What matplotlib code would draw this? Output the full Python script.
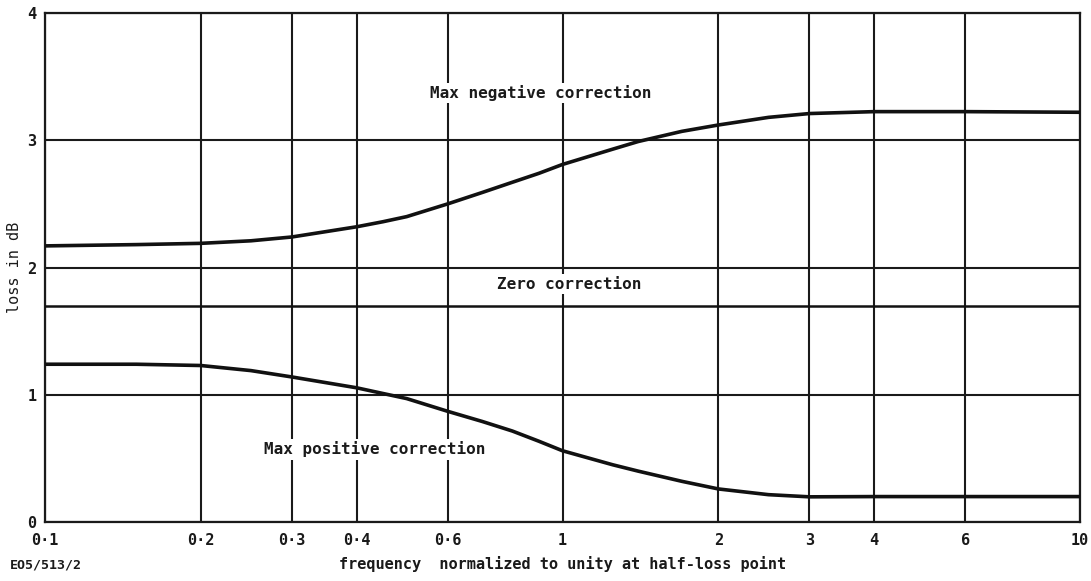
import matplotlib
matplotlib.use("Agg")
import matplotlib.pyplot as plt
from matplotlib.ticker import FixedLocator, NullLocator

# Data
freq = [0.1, 0.15, 0.2, 0.25, 0.3, 0.4, 0.45, 0.5, 0.6, 0.7, 0.8, 0.9, 1.0, 1.25, 1.4, 1.7, 2.0, 2.5, 3.0, 4.0, 6.0, 10.0]
max_negative = [2.17, 2.18, 2.19, 2.21, 2.24, 2.32, 2.36, 2.40, 2.50, 2.59, 2.67, 2.74, 2.81, 2.93, 2.99, 3.07, 3.12, 3.18, 3.21, 3.225, 3.225, 3.22]
max_positive = [1.24, 1.24, 1.23, 1.19, 1.14, 1.055, 1.01, 0.97, 0.87, 0.79, 0.715, 0.635, 0.56, 0.45, 0.40, 0.32, 0.26, 0.215, 0.198, 0.20, 0.20, 0.20]
zero_freq = [0.1, 10.0]
zero_correction = [1.70, 1.70]

x_ticks = [0.1, 0.2, 0.3, 0.4, 0.6, 1, 2, 3, 4, 6, 10]
x_tick_labels = ["0·1", "0·2", "0·3", "0·4", "0·6", "1", "2", "3", "4", "6", "10"]
y_ticks = [0, 1, 2, 3, 4]
y_tick_labels = ["0", "1", "2", "3", "4"]

labels = ["Max negative correction", "Zero correction", "Max positive correction"]
label_pos = [(0.906, 3.37), (1.03, 1.87), (0.434, 0.57)]

ink = "#1a1a1a"
fig = plt.figure(figsize=(10.91, 5.81), dpi=100)
ax = fig.add_axes([0.0412, 0.1015, 0.9488, 0.8761])
ax.set_xscale("log")
ax.set_xlim(0.1, 10)
ax.set_ylim(0, 4)

ax.xaxis.set_major_locator(FixedLocator(x_ticks))
ax.xaxis.set_minor_locator(NullLocator())
ax.set_xticklabels(x_tick_labels)
ax.set_yticks(y_ticks)
ax.set_yticklabels(y_tick_labels)

for x in x_ticks:
    ax.axvline(x, color=ink, lw=1.5, zorder=1)
for y in y_ticks:
    ax.axhline(y, color=ink, lw=1.5, zorder=1)

ax.plot(freq, max_negative, color="#111111", lw=2.6, zorder=3, solid_joinstyle="round")
ax.plot(freq, max_positive, color="#111111", lw=2.6, zorder=3, solid_joinstyle="round")
ax.plot(zero_freq, zero_correction, color="#111111", lw=1.8, zorder=3)

font = dict(family="DejaVu Sans Mono", fontsize=11.5, fontweight="bold", color=ink)
for txt, (lx, ly) in zip(labels, label_pos):
    ax.text(lx, ly, txt, ha="center", va="center", zorder=4,
            bbox=dict(facecolor="white", edgecolor="none", pad=1.5), **font)

for sp in ax.spines.values():
    sp.set_linewidth(1.6)
    sp.set_color(ink)

ax.tick_params(length=0, labelsize=11)
ax.tick_params(axis="x", pad=8)
ax.tick_params(axis="y", pad=6)
for lab in ax.get_xticklabels() + ax.get_yticklabels():
    lab.set_fontfamily("DejaVu Sans Mono")
    lab.set_fontweight("bold")
    lab.set_color(ink)

ax.set_xlabel("frequency  normalized to unity at half-loss point",
              family="DejaVu Sans Mono", fontsize=11, fontweight="bold", color=ink, labelpad=6)
ax.set_ylabel("loss in dB", family="DejaVu Sans Mono", fontsize=11, color=ink, labelpad=4)

fig.text(0.009, 0.022, "EO5/513/2", family="DejaVu Sans Mono", fontsize=9.5,
         fontweight="bold", color=ink)

fig.savefig("out.png", dpi=100, facecolor="white")
